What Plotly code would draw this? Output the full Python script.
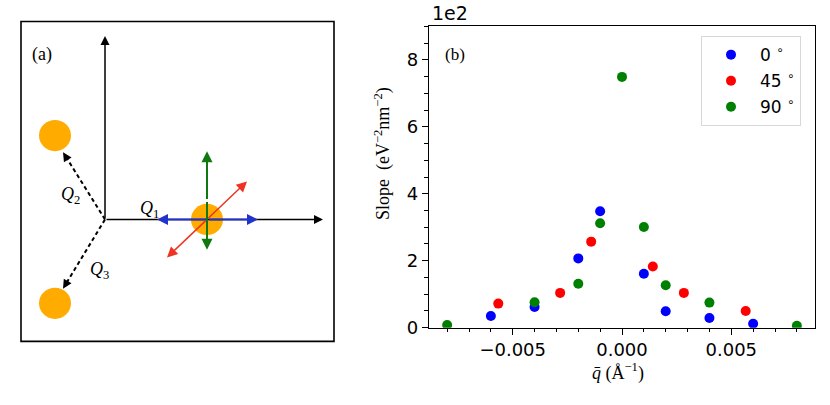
import plotly.graph_objects as go

# ---------------- data (panel b) ----------------
q_0 = [-0.006, -0.004, -0.002, -0.001, 0.001, 0.002, 0.004, 0.006]
slope_0 = [0.35, 0.62, 2.07, 3.48, 1.61, 0.49, 0.29, 0.12]
q_45 = [-0.00566, -0.00283, -0.00141, 0.00141, 0.00283, 0.00566]
slope_45 = [0.72, 1.04, 2.57, 1.83, 1.04, 0.50]
q_90 = [-0.008, -0.004, -0.002, -0.001, 0.0, 0.001, 0.002, 0.004, 0.008]
slope_90 = [0.08, 0.76, 1.31, 3.12, 7.49, 3.01, 1.27, 0.75, 0.06]
series_names = ["0 <sup>∘</sup>", "45 <sup>∘</sup>", "90 <sup>∘</sup>"]
series_colors = ["#0000ff", "#ff0000", "#008000"]
x_tickvals = [-0.005, 0.0, 0.005]
x_ticktext = ["−0.005", "0.000", "0.005"]
y_tickvals = [0, 2, 4, 6, 8]

# ---------------- schematic geometry (panel a), in panel units ----------------
origin = (105, 225)
axis_ends = [(105, 37), (323, 225)]
atom_centers = [(55, 139), (55, 311), (207, 225)]
atom_radius = 16
dashed_ends = [(63, 156), (63, 296)]
blue_ends = [(157, 225), (258, 225)]
green_ends = [(207, 155), (207, 256)]
red_ends = [(247, 186), (167, 264)]

W, H = 830, 405


def fx(X):
    return X / W


def fy(Y):
    return 1 - Y / H


fig = go.Figure()

for i, (xs, ys, name, col) in enumerate(zip([q_0, q_45, q_90], [slope_0, slope_45, slope_90],
                                            series_names, series_colors)):
    fig.add_trace(go.Scatter(x=xs, y=ys, mode="markers", name=name, legendgroup=str(i),
                             marker=dict(color=col, size=10, line=dict(width=0)),
                             xaxis="x", yaxis="y", cliponaxis=True))

# invisible trace to anchor panel a axes
fig.add_trace(go.Scatter(x=[origin[0]], y=[origin[1]], mode="markers",
                         marker=dict(size=1, color="rgba(0,0,0,0)"),
                         showlegend=False, xaxis="x2", yaxis="y2", hoverinfo="skip"))

shapes = []
annotations = []

# panel a frame
shapes.append(dict(type="rect", xref="paper", yref="paper",
                   x0=fx(21), x1=fx(334), y0=fy(350), y1=fy(22),
                   line=dict(color="black", width=1.6)))

# atoms
for (cx, cy) in atom_centers:
    shapes.append(dict(type="circle", xref="x2", yref="y2",
                       x0=cx - atom_radius, x1=cx + atom_radius,
                       y0=cy - atom_radius, y1=cy + atom_radius,
                       fillcolor="#ffab00", line=dict(width=0), layer="below"))


def arrow(tail, head, color, width, size=1.0, head_style=2):
    annotations.append(dict(x=head[0], y=head[1], ax=tail[0], ay=tail[1],
                            xref="x2", yref="y2", axref="x2", ayref="y2",
                            showarrow=True, arrowhead=head_style, arrowsize=size,
                            arrowwidth=width, arrowcolor=color, text="", standoff=0))


# black coordinate axes
for end in axis_ends:
    arrow(origin, end, "black", 1.5, 1.2)

# dashed arrows Q2, Q3
for end in dashed_ends:
    dx, dy = end[0] - origin[0], end[1] - origin[1]
    shapes.append(dict(type="line", xref="x2", yref="y2",
                       x0=origin[0], y0=origin[1],
                       x1=origin[0] + 0.93 * dx, y1=origin[1] + 0.93 * dy,
                       line=dict(color="black", width=2, dash="4px,3px")))
    arrow((origin[0] + 0.9 * dx, origin[1] + 0.9 * dy), end, "black", 1.5, 1.2)

# coloured double arrows
for ends, col, w, s in [(blue_ends, "#2233cc", 2.0, 1.1), (green_ends, "#117711", 2.0, 1.1),
                        (red_ends, "#ee3322", 1.5, 1.4)]:
    mid = ((ends[0][0] + ends[1][0]) / 2, (ends[0][1] + ends[1][1]) / 2)
    arrow(mid, ends[0], col, w, s)
    arrow(mid, ends[1], col, w, s)

serif = "Liberation Serif"
# labels panel a
for txt, x, y in [("(a)", 42, 56),
                  ("<i>Q</i><sub>2</sub>", 70, 200),
                  ("<i>Q</i><sub>1</sub>", 149, 215),
                  ("<i>Q</i><sub>3</sub>", 99, 277)]:
    annotations.append(dict(x=x, y=y, xref="x2", yref="y2", text=txt, showarrow=False,
                            xanchor="center", yanchor="middle",
                            font=dict(family=serif, size=18, color="black")))

# panel b labels
annotations.append(dict(x=fx(455), y=fy(56), xref="paper", yref="paper", text="(b)",
                        showarrow=False, xanchor="center", yanchor="middle",
                        font=dict(family=serif, size=17, color="black")))
annotations.append(dict(x=fx(430), y=fy(27), xref="paper", yref="paper", text="1e2",
                        showarrow=False, xanchor="left", yanchor="bottom",
                        font=dict(family="DejaVu Sans", size=19, color="black")))
annotations.append(dict(x=fx(383), y=fy(158), xref="paper", yref="paper",
                        text="Slope  (eV<sup>−2</sup>nm<sup>−2</sup>)", textangle=-90,
                        showarrow=False, xanchor="center", yanchor="middle",
                        font=dict(family=serif, size=18, color="black")))
annotations.append(dict(x=fx(618), y=fy(381), xref="paper", yref="paper",
                        text="<i>q̄</i> (Å<sup>−1</sup>)",
                        showarrow=False, xanchor="center", yanchor="middle",
                        font=dict(family=serif, size=18, color="black")))

fig.update_layout(
    width=W, height=H,
    margin=dict(l=0, r=0, t=0, b=0),
    paper_bgcolor="white", plot_bgcolor="white",
    font=dict(family="DejaVu Sans", size=18, color="black"),
    shapes=shapes, annotations=annotations,
    xaxis=dict(domain=[fx(429), fx(815)], range=[-0.00883, 0.00883],
               tickvals=x_tickvals, ticktext=x_ticktext,
               ticks="outside", ticklen=6, tickwidth=1.3, tickcolor="black",
               minor=dict(dtick=0.001, tick0=0, ticks="outside", ticklen=3.5,
                          tickcolor="black", tickwidth=1),
               showline=True, linecolor="black", linewidth=1.3, mirror=True,
               showgrid=False, zeroline=False, anchor="y",
               tickfont=dict(size=18)),
    yaxis=dict(domain=[fy(336), fy(27)], range=[0, 9],
               tickvals=y_tickvals,
               ticks="outside", ticklen=6, tickwidth=1.3, tickcolor="black",
               minor=dict(dtick=0.5, tick0=0, ticks="outside", ticklen=3.5,
                          tickcolor="black", tickwidth=1),
               showline=True, linecolor="black", linewidth=1.3, mirror=True,
               showgrid=False, zeroline=False, anchor="x",
               tickfont=dict(size=18)),
    xaxis2=dict(domain=[fx(21), fx(334)], range=[21, 334], visible=False,
                anchor="y2", fixedrange=True),
    yaxis2=dict(domain=[fy(350), fy(22)], range=[350, 22], visible=False,
                anchor="x2", fixedrange=True),
    legend=dict(x=fx(701), xanchor="left", y=fy(37), yanchor="top",
                bordercolor="#d8d8d8", borderwidth=1, bgcolor="white",
                font=dict(family="DejaVu Sans", size=17),
                traceorder="grouped", itemwidth=48, tracegroupgap=1),
    showlegend=True,
)

fig.write_html("out.html", config={"displayModeBar": False},
               post_script="document.body.style.margin='0px';document.body.style.overflow='hidden';")
